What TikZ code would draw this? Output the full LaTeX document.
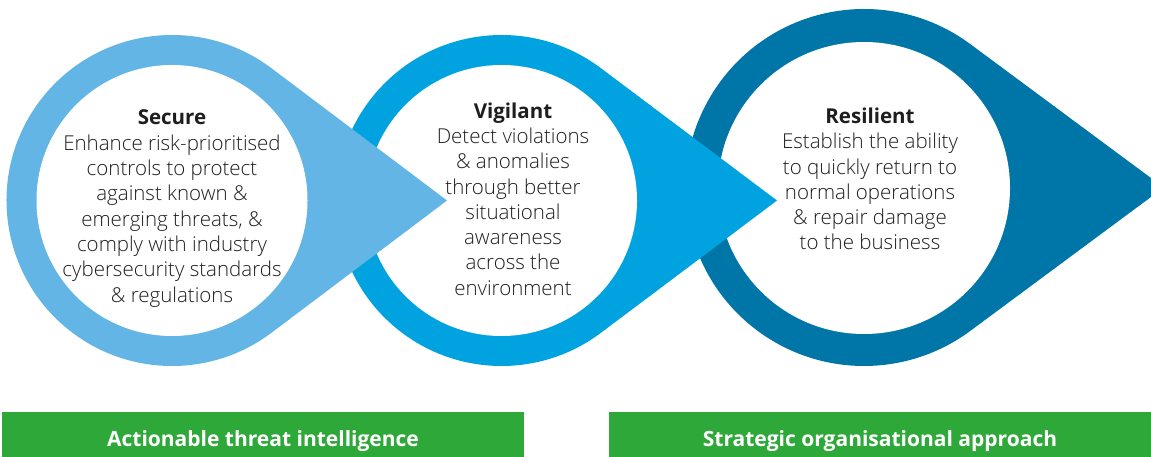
\documentclass[tikz,border=0pt]{standalone}
\usepackage{fontspec}
\setmainfont{Open Sans}
\IfFontExistsTF{Open Sans Light}{\newfontfamily\lightfont{Open Sans Light}}{\newfontfamily\lightfont{Open Sans}}
\usetikzlibrary{calc}
\definecolor{cLight}{HTML}{62B5E5}
\definecolor{cMid}{HTML}{00A3E0}
\definecolor{cDark}{HTML}{0076A8}
\definecolor{cGreen}{RGB}{46,168,57}
\definecolor{cText}{HTML}{1E1E1E}
\tikzset{
  bodytext/.style={align=center, inner sep=0pt, text=cText,
    font=\lightfont\fontsize{20.5}{25.3}\selectfont},
  gbox/.style={fill=cGreen, inner sep=0pt, text=white,
    font=\fontsize{21}{24}\selectfont\bfseries, text height=24.4pt, text depth=0pt},
}
\newcommand\ttl[1]{{\normalfont\fontsize{20.5}{25.3}\selectfont\bfseries #1}}
\begin{document}
\begin{tikzpicture}[x=1pt,y=-1pt]
\useasboundingbox (0,0) rectangle (1151,457);
% Resilient (dark)
\fill[cDark] (1163.8,187.5) -- ($(864,187.5)+(-53.5:178.5)$) arc[start angle=-53.5, end angle=-306.5, radius=178.5] -- cycle;
\fill[white] (864,188) circle[radius=146];
% Vigilant (mid)
\fill[cMid] (777,200.5) -- ($(501.5,200.5)+(-53:165.5)$) arc[start angle=-53, end angle=-307, radius=165.5] -- cycle;
\fill[white] (501.5,200.5) circle[radius=135.5];
% Secure (light)
\fill[cLight] (447,200.5) -- ($(172,200.5)+(-53:165.5)$) arc[start angle=-53, end angle=-307, radius=165.5] -- cycle;
\fill[white] (172,200.5) circle[radius=135.5];
% texts
\node[bodytext] (secure) at (172,208.5) {\ttl{Secure}\\Enhance risk-prioritised\\controls to protect\\against known \&\\emerging threats, \&\\comply with industry\\cybersecurity standards\\\& regulations};
\node[bodytext] (vigilant) at (513,199) {\ttl{Vigilant}\\Detect violations\\\& anomalies\\through better\\situational\\awareness\\across the\\environment};
\node[bodytext] (resilient) at (870,179) {\ttl{Resilient}\\Establish the ability\\to quickly return to\\normal operations\\\& repair damage\\to the business};
% green bars
\node[gbox, minimum width=522pt, minimum height=45pt] (ati) at (263,434.5) {Actionable threat intelligence};
\node[gbox, minimum width=542pt, minimum height=45pt] (soa) at (880,434.5) {Strategic organisational approach};
\end{tikzpicture}
\end{document}
